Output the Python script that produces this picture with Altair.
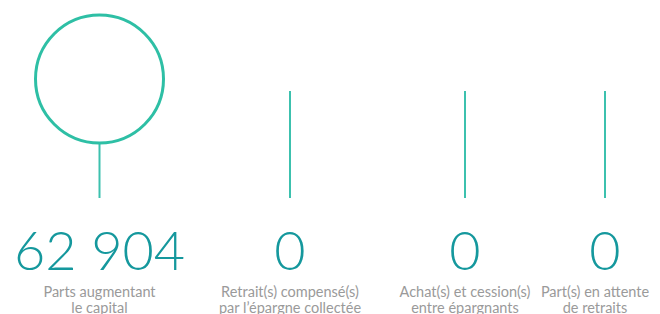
import altair as alt
import pandas as pd

categories = ["Parts augmentant\nle capital",
              "Retrait(s) compensé(s)\npar l’épargne collectée",
              "Achat(s) et cession(s)\nentre épargnants",
              "Part(s) en attente\nde retraits"]
values = [62904, 0, 0, 0]

df = pd.DataFrame({
    "idx": list(range(len(categories))),
    "cat": categories,
    "value": values,
    "label": [f"{v:,}".replace(",", " ") for v in values],
})

W, H = 644, 306
slot_centres = [91.5, 282, 457, 597]  # layout (pixel) positions of the columns
pix_x = alt.Scale(domain=[0, W], range=[0, W], nice=False, zero=False)
pix_y = alt.Scale(domain=[0, H], range=[0, H], nice=False, zero=False)

base = alt.Chart(df).transform_calculate(
    xpos=f"{slot_centres}[datum.idx]"
).encode(x=alt.X("xpos:Q", scale=pix_x, axis=None))

stems = base.transform_calculate(
    top="datum.value > 0 ? 135 : 83", bottom="190"
).mark_rule(color="#3cc1ae", strokeWidth=2).encode(
    y=alt.Y("top:Q", scale=pix_y, axis=None),
    y2="bottom:Q",
)

circles = base.transform_filter("datum.value > 0").mark_point(
    shape="circle", filled=False, color="#2ebfa5", strokeWidth=3, opacity=1
).encode(
    y=alt.value(71),
    size=alt.Size("value:Q", scale=alt.Scale(type="sqrt", domain=[0, 62904], range=[0, 16384]), legend=None),
)

numbers = base.mark_text(
    font="Lato", fontWeight=300, fontSize=54, color="#15989d", baseline="alphabetic", align="center"
).encode(y=alt.value(262), text="label:N")

labels = alt.Chart(df).transform_calculate(
    xpos=f"min({slot_centres}[datum.idx], {W} - 57)",
    lines="split(datum.cat, '\\n')",
).mark_text(
    font="Lato", fontSize=14.5, color="#9a9a9a", baseline="alphabetic", align="center", lineHeight=15.5
).encode(x=alt.X("xpos:Q", scale=pix_x, axis=None), y=alt.value(289), text="lines:N")

chart = alt.layer(stems, circles, numbers, labels).properties(
    width=W, height=H, padding=0, autosize=alt.AutoSizeParams(type="none")
).configure_view(stroke=None)

chart.save("out.html", embed_options={"renderer": "svg", "actions": False})
